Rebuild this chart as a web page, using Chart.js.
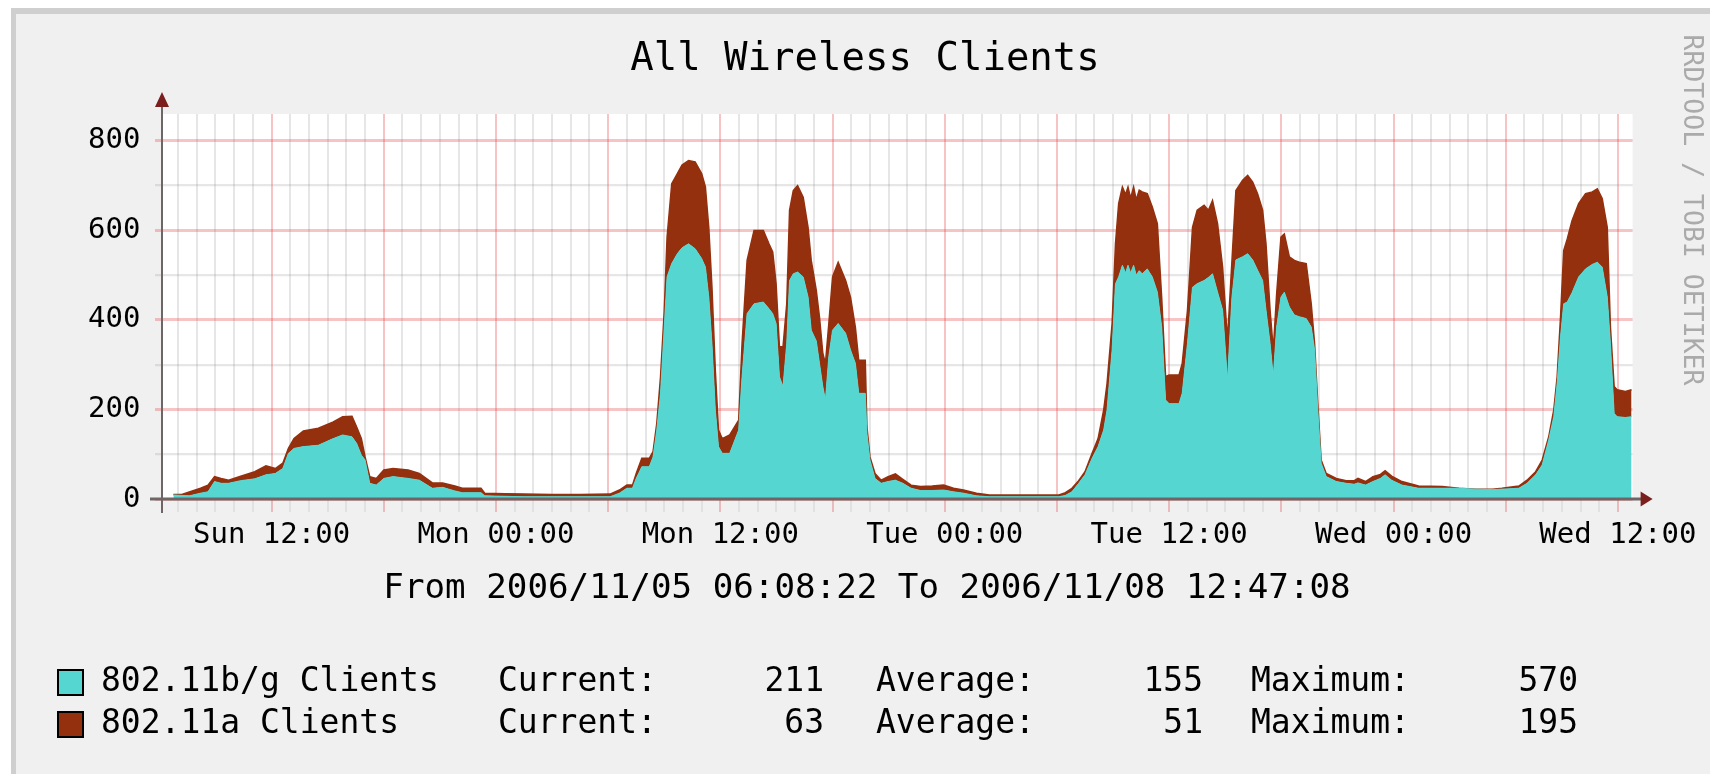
<!DOCTYPE html>
<html>
<head>
<meta charset="utf-8">
<title>All Wireless Clients</title>
<script src="https://cdn.jsdelivr.net/npm/chart.js@4.4.1/dist/chart.umd.min.js"></script>
<style>
    html, body { margin: 0; padding: 0; background: #ffffff; }
    #graph { display: block; }
</style>
</head>
<body>
<canvas id="graph" width="1710" height="774"></canvas>
<script>
// Data (hours counted from Sun 2006/11/05 00:00)
const hours = [
    6.75, 7.2, 7.6, 8.2, 8.6, 8.95, 9.3, 9.7, 10.35, 11.1, 11.7, 12.2, 12.6, 12.9, 13.2, 13.7, 14.5, 15.3, 15.8, 16.3,
    16.55, 16.8, 17.0, 17.25, 17.6, 18.0, 18.5, 19.3, 19.9, 20.6, 21.15, 21.8, 22.2, 23.2, 23.4, 24.5, 25.5, 27.0, 28.5, 30.1,
    30.6, 31.0, 31.3, 31.5, 31.8, 32.2, 32.4, 32.6, 32.8, 33.0, 33.15, 33.4, 33.7, 33.95, 34.3, 34.65, 35.0, 35.2, 35.38, 35.55,
    35.73, 35.9, 36.1, 36.5, 36.98, 37.16, 37.43, 37.8, 38.3, 38.6, 38.8, 38.98, 39.16, 39.35, 39.55, 39.7, 39.9, 40.13, 40.43, 40.69,
    40.86, 41.13, 41.3, 41.48, 41.62, 41.8, 42.0, 42.3, 42.7, 42.96, 43.22, 43.4, 43.75, 43.84, 44.0, 44.27, 44.6, 44.97, 45.36, 45.76,
    46.2, 46.7, 47.33, 47.94, 48.47, 49.0, 49.7, 50.4, 52.0, 54.1, 54.45, 54.8, 55.16, 55.5, 55.88, 56.2, 56.5, 56.68, 56.95, 57.13,
    57.3, 57.5, 57.67, 57.8, 57.94, 58.1, 58.24, 58.4, 58.56, 58.83, 59.1, 59.37, 59.6, 59.81, 60.0, 60.53, 60.7, 60.98, 61.25, 61.5,
    61.87, 62.1, 62.32, 62.59, 62.86, 63.12, 63.36, 63.57, 63.93, 64.2, 64.47, 64.73, 65.0, 65.18, 65.4, 65.57, 65.75, 65.98, 66.16, 66.43,
    66.7, 66.97, 67.33, 67.6, 67.78, 67.95, 68.13, 68.4, 68.94, 69.47, 69.9, 70.1, 70.5, 70.9, 71.3, 71.55, 71.9, 72.45, 73.34, 74.6,
    75.5, 76.4, 77.3, 77.8, 78.7, 79.14, 79.6, 79.95, 80.3, 80.57, 80.75, 80.93, 81.1, 81.29, 81.55, 81.9, 82.27, 82.63, 82.9, 83.16,
    83.43, 83.6, 83.8, 83.96, 84.4, 84.73
];

const bgClients = [
    9, 8, 7, 13, 16, 39, 35, 35, 41, 45, 54, 57, 68, 102, 113, 117, 120, 135, 143, 139,
    124, 98, 87, 35, 31, 46, 50, 46, 42, 24, 26, 18, 14, 14, 7, 6, 5, 5, 5, 5,
    13, 24, 24, 46, 72, 72, 94, 154, 236, 384, 496, 526, 548, 561, 570, 559, 537, 518, 451, 347,
    199, 117, 102, 102, 154, 273, 414, 436, 440, 425, 414, 392, 273, 251, 347, 488, 503, 507, 496, 451,
    377, 353, 303, 251, 221, 318, 377, 392, 370, 333, 303, 236, 236, 146, 87, 46, 35, 39, 42, 35,
    24, 19, 19, 20, 16, 13, 7, 5, 5, 5, 8, 16, 35, 54, 91, 117, 154, 199, 333, 481,
    496, 522, 505, 522, 505, 522, 500, 510, 503, 514, 496, 462, 384, 221, 213, 213, 236, 347, 473, 481,
    488, 495, 503, 462, 422, 265, 451, 534, 541, 548, 534, 511, 488, 422, 347, 273, 384, 451, 462, 429,
    411, 407, 403, 384, 333, 199, 80, 50, 39, 35, 33, 36, 31, 39, 46, 54, 42, 31, 24, 24,
    24, 22, 21, 22, 24, 35, 54, 76, 132, 184, 258, 362, 436, 440, 461, 496, 514, 524, 529, 518,
    451, 347, 191, 184, 182, 184
];

const aClients = [
    1, 2, 9, 11, 15, 11, 11, 7, 10, 16, 20, 11, 12, 11, 22, 35, 38, 37, 41, 46,
    37, 37, 7, 15, 15, 19, 18, 19, 15, 12, 10, 11, 10, 10, 6, 6, 6, 5, 5, 6,
    7, 7, 7, 11, 19, 19, 12, 15, 37, 37, 89, 178, 179, 185, 186, 194, 190, 179, 156, 127,
    89, 37, 33, 41, 22, 74, 119, 164, 160, 145, 138, 89, 67, 89, 89, 157, 186, 193, 178, 156,
    156, 113, 104, 74, 82, 74, 119, 137, 118, 118, 81, 74, 74, 15, 7, 11, 7, 11, 14, 9,
    7, 9, 10, 11, 8, 7, 6, 4, 4, 4, 6, 8, 6, 7, 11, 18, 45, 59, 59, 89,
    164, 175, 175, 175, 167, 175, 168, 180, 183, 168, 156, 153, 67, 52, 64, 64, 67, 74, 134, 164,
    168, 150, 164, 153, 96, 90, 82, 155, 171, 175, 174, 171, 157, 148, 74, 60, 75, 134, 130, 112,
    122, 122, 123, 52, 14, 14, 7, 7, 7, 6, 8, 10, 8, 11, 9, 9, 9, 8, 5, 4,
    0, 0, 1, 2, 5, 7, 7, 11, 7, 15, 15, 44, 119, 141, 161, 164, 168, 162, 164, 153,
    156, 37, 60, 60, 58, 60
];

// Axis range and ticks
const startHour = 6 + 8 / 60 + 22 / 3600;   // Sun 06:08:22
const endHour = 84 + 47 / 60 + 8 / 3600;    // Wed 12:47:08
const dayNames = ['Sun', 'Mon', 'Tue', 'Wed'];
const yMax = 860;
const yTicks = [0, 100, 200, 300, 400, 500, 600, 700, 800];

// Legend text
const seriesNames = ['802.11b/g Clients', '802.11a Clients'];
const currentVals = ['211', '63'];
const averageVals = ['155', '51'];
const maximumVals = ['570', '195'];

const title = 'All Wireless Clients';
const rangeText = 'From 2006/11/05 06:08:22 To 2006/11/08 12:47:08';
const watermark = 'RRDTOOL / TOBI OETIKER';

const MONO = "'DejaVu Sans Mono', monospace";
const CYAN = '#56d6d0';
const BROWN = '#94300e';
const GRID_MAJOR = 'rgba(226, 70, 70, 0.32)';
const GRID_MINOR = 'rgba(140, 140, 140, 0.22)';

function hourLabel(h) {
    const hh = h % 24;
    return dayNames[Math.floor(h / 24)] + ' ' + String(hh).padStart(2, '0') + ':00';
}

// Frame, canvas background, title, axes, arrows, legend text
const rrdDecor = {
    id: 'rrdDecor',
    beforeDraw(chart) {
        const { ctx, chartArea } = chart;
        ctx.save();
        ctx.fillStyle = '#ffffff';
        ctx.fillRect(0, 0, chart.width, chart.height);
        ctx.fillStyle = '#cfcfcf';
        ctx.fillRect(11, 8, chart.width - 11, chart.height - 8);
        ctx.fillStyle = '#f0f0f0';
        ctx.fillRect(16, 14, chart.width - 16, chart.height - 14);
        ctx.fillStyle = '#ffffff';
        ctx.fillRect(chartArea.left, chartArea.top, chartArea.right - chartArea.left, chartArea.bottom - chartArea.top);

        ctx.fillStyle = '#000000';
        ctx.textAlign = 'center';
        ctx.textBaseline = 'middle';
        ctx.font = '39px ' + MONO;
        ctx.fillText(title, 865, 60);
        ctx.restore();
    },
    afterDraw(chart) {
        const { ctx, chartArea } = chart;
        const left = chartArea.left, bottom = chartArea.bottom;
        ctx.save();

        // axis lines
        ctx.strokeStyle = '#6e6666';
        ctx.lineWidth = 2;
        ctx.beginPath();
        ctx.moveTo(left, bottom + 14);
        ctx.lineTo(left, chartArea.top - 7);
        ctx.stroke();
        ctx.lineWidth = 3;
        ctx.beginPath();
        ctx.moveTo(left - 12, bottom);
        ctx.lineTo(chartArea.right + 9, bottom);
        ctx.stroke();

        // arrows
        ctx.fillStyle = '#7a1e1e';
        ctx.beginPath();
        ctx.moveTo(left - 7, chartArea.top - 7);
        ctx.lineTo(left + 7, chartArea.top - 7);
        ctx.lineTo(left, chartArea.top - 22);
        ctx.closePath();
        ctx.fill();
        ctx.beginPath();
        ctx.moveTo(chartArea.right + 8, bottom - 7.5);
        ctx.lineTo(chartArea.right + 8, bottom + 7.5);
        ctx.lineTo(chartArea.right + 20, bottom);
        ctx.closePath();
        ctx.fill();

        // time range line
        ctx.fillStyle = '#000000';
        ctx.textBaseline = 'middle';
        ctx.textAlign = 'center';
        ctx.font = '34.2px ' + MONO;
        ctx.fillText(rangeText, 867, 589);

        // legend rows
        const colors = [CYAN, BROWN];
        const rowsY = [682, 724];
        ctx.font = '33px ' + MONO;
        rowsY.forEach((y, i) => {
            ctx.fillStyle = colors[i];
            ctx.fillRect(58, y - 12, 25, 25);
            ctx.strokeStyle = '#000000';
            ctx.lineWidth = 2;
            ctx.strokeRect(58, y - 12, 25, 25);

            ctx.fillStyle = '#000000';
            ctx.textAlign = 'left';
            ctx.fillText(seriesNames[i], 101, y);
            ctx.fillText('Current:', 498, y);
            ctx.fillText('Average:', 876, y);
            ctx.fillText('Maximum:', 1251, y);
            ctx.textAlign = 'right';
            ctx.fillText(currentVals[i], 824, y);
            ctx.fillText(averageVals[i], 1203, y);
            ctx.fillText(maximumVals[i], 1578, y);
        });

        // vertical watermark
        ctx.translate(1691, 210);
        ctx.rotate(Math.PI / 2);
        ctx.fillStyle = '#aaaaaa';
        ctx.textAlign = 'center';
        ctx.font = '26.5px ' + MONO;
        ctx.fillText(watermark, 0, 0);
        ctx.restore();
    }
};

const ctx = document.getElementById('graph').getContext('2d');

new Chart(ctx, {
    type: 'line',
    data: {
        datasets: [
            {
                label: seriesNames[0],
                data: hours.map((h, i) => ({ x: h, y: bgClients[i] })),
                backgroundColor: CYAN,
                borderColor: CYAN,
                borderWidth: 1,
                fill: 'origin',
                pointRadius: 0,
                tension: 0
            },
            {
                label: seriesNames[1],
                data: hours.map((h, i) => ({ x: h, y: aClients[i] })),
                backgroundColor: BROWN,
                borderColor: BROWN,
                borderWidth: 1.5,
                fill: '-1',
                pointRadius: 0,
                tension: 0
            }
        ]
    },
    options: {
        responsive: false,
        animation: false,
        devicePixelRatio: 1,
        layout: {
            padding: { left: 0, right: 77.4, top: 114, bottom: 200 }
        },
        plugins: {
            legend: { display: false },
            tooltip: { enabled: false },
            title: { display: false }
        },
        scales: {
            x: {
                type: 'linear',
                min: startHour,
                max: endHour,
                z: 1,
                border: { display: false },
                afterBuildTicks: scale => {
                    const ticks = [];
                    for (let h = Math.ceil(startHour); h <= Math.floor(endHour); h++) ticks.push({ value: h });
                    scale.ticks = ticks;
                },
                afterFit: scale => { scale.height = 75; },
                grid: {
                    color: c => (c.tick && c.tick.value % 6 === 0) ? GRID_MAJOR : GRID_MINOR,
                    tickColor: c => (c.tick && c.tick.value % 6 === 0) ? GRID_MAJOR : 'rgba(140, 140, 140, 0.15)',
                    lineWidth: 2,
                    tickLength: 13
                },
                ticks: {
                    autoSkip: false,
                    maxRotation: 0,
                    minRotation: 0,
                    padding: 6,
                    color: '#000000',
                    font: { family: MONO, size: 29 },
                    callback: v => (v % 12 === 0) ? hourLabel(v) : ''
                }
            },
            y: {
                stacked: true,
                min: 0,
                max: yMax,
                z: 1,
                border: { display: false },
                afterBuildTicks: scale => { scale.ticks = yTicks.map(v => ({ value: v })); },
                afterFit: scale => { scale.width = 162; },
                grid: {
                    color: c => (c.tick && c.tick.value % 200 === 0) ? GRID_MAJOR : GRID_MINOR,
                    tickColor: c => (c.tick && c.tick.value % 200 === 0) ? GRID_MAJOR : GRID_MINOR,
                    lineWidth: c => (c.tick && c.tick.value % 200 === 0) ? 3 : 2.3,
                    tickLength: 7
                },
                ticks: {
                    padding: 14.5,
                    color: '#000000',
                    font: { family: MONO, size: 29 },
                    callback: v => (v % 200 === 0) ? String(v) : ''
                }
            }
        }
    },
    plugins: [rrdDecor]
});
</script>
</body>
</html>
